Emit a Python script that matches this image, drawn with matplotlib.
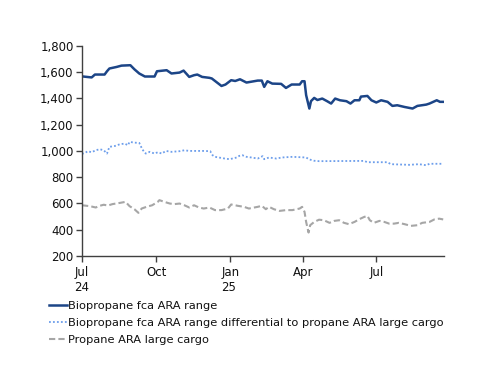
import matplotlib
matplotlib.use("Agg")
import matplotlib.pyplot as plt
import pandas as pd

plt.rcParams['font.family'] = ['DejaVu Sans']

bio_dates = ["2024-07-01","2024-07-13","2024-07-17","2024-07-29","2024-08-01","2024-08-04","2024-08-13",
             "2024-08-19","2024-08-30","2024-09-04","2024-09-10","2024-09-17","2024-09-29","2024-10-02",
             "2024-10-14","2024-10-20","2024-10-30","2024-11-04","2024-11-11","2024-11-17","2024-11-21",
             "2024-11-27","2024-12-06","2024-12-09","2024-12-21","2024-12-26","2025-01-02","2025-01-07",
             "2025-01-13","2025-01-21","2025-02-04","2025-02-09","2025-02-12","2025-02-16","2025-02-22",
             "2025-03-05","2025-03-11","2025-03-18","2025-03-28","2025-03-31","2025-04-03","2025-04-05",
             "2025-04-09","2025-04-11","2025-04-15","2025-04-19","2025-04-25","2025-05-01","2025-05-06",
             "2025-05-11","2025-05-17","2025-05-25","2025-05-30","2025-06-04","2025-06-10","2025-06-12",
             "2025-06-20","2025-06-25","2025-07-01","2025-07-07","2025-07-15","2025-07-21","2025-07-27",
             "2025-08-05","2025-08-15","2025-08-21","2025-09-01","2025-09-05","2025-09-14","2025-09-18",
             "2025-09-22"]
bio_values = [1568,1560,1582,1582,1607,1628,1640,1650,1653,1622,1590,1567,1567,1607,1615,1590,1597,1612,
              1564,1577,1582,1564,1557,1552,1495,1506,1539,1533,1546,1521,1536,1536,1488,1531,1513,1511,
              1480,1506,1506,1531,1531,1425,1323,1379,1404,1388,1399,1379,1361,1399,1386,1379,1361,1386,
              1386,1414,1419,1386,1369,1386,1374,1343,1348,1335,1323,1343,1353,1361,1386,1374,1374]

diff_dates = ["2024-07-01","2024-07-05","2024-07-08","2024-07-13","2024-07-18","2024-07-23","2024-07-28",
              "2024-08-01","2024-08-04","2024-08-11","2024-08-17","2024-08-23","2024-08-27","2024-08-29",
              "2024-09-04","2024-09-10","2024-09-14","2024-09-18","2024-09-23","2024-09-29","2024-10-03",
              "2024-10-08","2024-10-13","2024-10-20","2024-10-30","2024-11-05","2024-11-11","2024-11-28",
              "2024-12-07","2024-12-10","2024-12-13","2024-12-25","2024-12-31","2025-01-09","2025-01-12",
              "2025-01-16","2025-01-21","2025-01-27","2025-02-04","2025-02-10","2025-02-12","2025-02-18",
              "2025-02-27","2025-03-06","2025-03-19","2025-04-05","2025-04-09","2025-04-15","2025-04-21",
              "2025-06-16","2025-06-20","2025-07-15","2025-07-19","2025-08-11","2025-08-23","2025-09-01",
              "2025-09-05","2025-09-22"]
diff_values = [978,985,998,990,1005,1013,1005,980,1031,1038,1051,1056,1043,1069,1063,1061,1010,980,993,
               980,990,980,1000,993,998,1005,1000,1000,998,967,955,942,937,950,962,967,955,950,942,960,
               937,950,942,950,955,950,935,925,922,924,914,914,899,894,899,891,902,902]

prop_dates = ["2024-07-01","2024-07-11","2024-07-18","2024-07-23","2024-07-28","2024-08-02","2024-08-08",
              "2024-08-17","2024-08-24","2024-08-29","2024-09-04","2024-09-09","2024-09-13","2024-09-19",
              "2024-09-26","2024-10-03","2024-10-05","2024-10-11","2024-10-18","2024-10-24","2024-10-30",
              "2024-11-05","2024-11-11","2024-11-17","2024-11-23","2024-11-29","2024-12-06","2024-12-13",
              "2024-12-21","2024-12-29","2025-01-02","2025-01-10","2025-01-18","2025-01-24","2025-02-04",
              "2025-02-09","2025-02-14","2025-02-18","2025-02-24","2025-03-03","2025-03-11","2025-03-19",
              "2025-03-24","2025-03-28","2025-03-31","2025-04-03","2025-04-05","2025-04-08","2025-04-10",
              "2025-04-15","2025-04-21","2025-04-27","2025-05-04","2025-05-10","2025-05-16","2025-05-22",
              "2025-05-28","2025-06-04","2025-06-10","2025-06-16","2025-06-20","2025-06-23","2025-06-28",
              "2025-07-05","2025-07-11","2025-07-17","2025-07-23","2025-07-29","2025-08-05","2025-08-13",
              "2025-08-21","2025-08-27","2025-09-05","2025-09-11","2025-09-17","2025-09-22"]
prop_values = [586,579,569,582,590,584,595,604,612,579,556,528,561,574,586,612,625,612,599,595,599,586,
               569,586,569,561,569,549,549,561,592,582,574,561,574,582,556,574,556,543,549,549,556,561,
               574,536,459,378,434,459,476,472,452,467,472,452,442,459,480,497,505,472,452,467,459,446,
               446,452,442,429,434,452,459,478,484,478]

labels = ["Biopropane fca ARA range",
          "Biopropane fca ARA range differential to propane ARA large cargo",
          "Propane ARA large cargo"]
yticks = [200, 400, 600, 800, 1000, 1200, 1400, 1600, 1800]
xtick_dates = ["2024-07-01", "2024-10-01", "2025-01-01", "2025-04-01", "2025-07-01"]
xtick_labels = ["Jul\n24", "Oct", "Jan\n25", "Apr", "Jul"]

fig = plt.figure(figsize=(5.0, 3.86), dpi=100)
ax = fig.add_axes([0.164, 0.337, 0.724, 0.544])

l1, = ax.plot(pd.to_datetime(bio_dates), bio_values, color="#1c4587", lw=1.8, label=labels[0])
l2, = ax.plot(pd.to_datetime(diff_dates), diff_values, color="#6d9eeb", lw=1.3, ls=(0, (1, 1.2)), label=labels[1])
l3, = ax.plot(pd.to_datetime(prop_dates), prop_values, color="#a6a6a6", lw=1.5, ls=(0, (3, 1.5)), label=labels[2])

ax.set_ylim(200, 1800)
ax.set_yticks(yticks)
ax.set_yticklabels([f"{v:,}" for v in yticks])
ax.set_xlim(pd.Timestamp("2024-07-01"), pd.Timestamp("2025-09-23"))
ax.set_xticks(pd.to_datetime(xtick_dates))
ax.set_xticklabels(xtick_labels, ha="center", va="top", ma="left")

for s in ["top", "right"]:
    ax.spines[s].set_visible(False)
for s in ["left", "bottom"]:
    ax.spines[s].set_color("#404040")
    ax.spines[s].set_linewidth(1.0)
ax.tick_params(axis="both", colors="#404040", labelcolor="#111111", labelsize=8.5, length=4, width=1)
ax.tick_params(axis="y", pad=2)
ax.tick_params(axis="x", pad=3)

fig.legend(handles=[l1, l2, l3], labels=labels, loc="upper left", bbox_to_anchor=(0.098, 0.219),
           frameon=False, fontsize=8.2, handlelength=1.55, handletextpad=0.15, labelspacing=0.6,
           borderaxespad=0, borderpad=0, labelcolor="#111111")

fig.savefig("out.png", dpi=100)
